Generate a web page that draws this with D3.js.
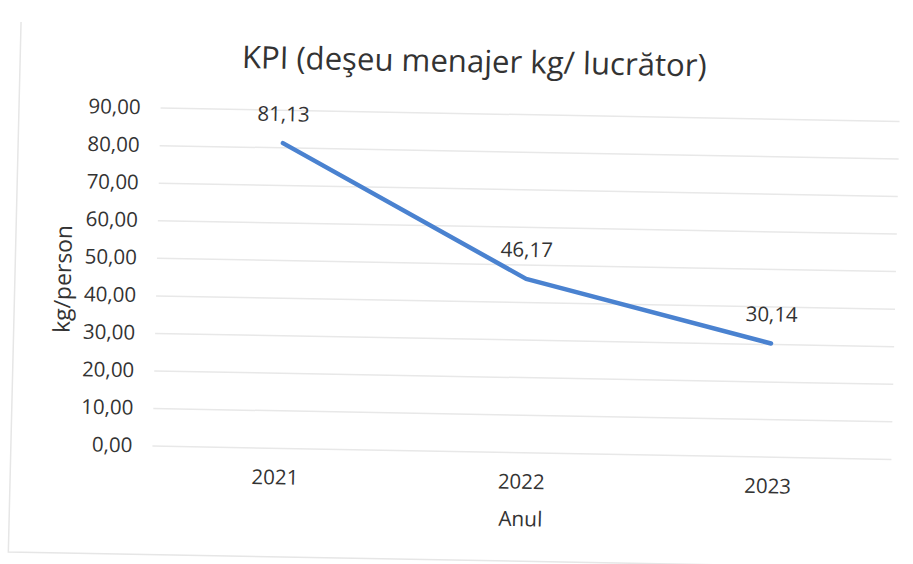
<!DOCTYPE html>
<html>
<head>
<meta charset="utf-8">
<script src="https://cdn.jsdelivr.net/npm/d3@7"></script>
<style>
  html, body { margin: 0; padding: 0; background: #ffffff; }
  svg { display: block; }
  text { font-family: "Open Sans", "Noto Sans", sans-serif; fill: #333333; }
</style>
</head>
<body>
<svg id="chart" width="913" height="564"></svg>
<script>
// ---- data ----
const years = ["2021", "2022", "2023"];
const kgPerPerson = [81.13, 46.17, 30.14];
const yTicks = [0, 10, 20, 30, 40, 50, 60, 70, 80, 90];
const chartTitle = "KPI (deşeu menajer kg/ lucrător)";
const yAxisTitle = "kg/person";
const xAxisTitle = "Anul";

// ---- layout ----
const W = 913, H = 564;
const plot = { left: 156.5, right: 895.5, top: 113, bottom: 451 };
// slight scan skew of the reference
const A = 0.024, B = 0.018, cx = W / 2, cy = H / 2;

const ro = d3.formatLocale({ decimal: ",", thousands: ".", grouping: [3], currency: ["", ""] });
const fmt = ro.format(".2f");

const svg = d3.select("#chart");
svg.append("rect").attr("width", W).attr("height", H).attr("fill", "#ffffff");

const g = svg.append("g")
  .attr("transform", `matrix(1,${B},${-A},1,${A * cy},${-B * cx})`);

// chart frame (only the left and bottom edges show in the scan)
g.append("path")
  .attr("d", d3.line()([[15, 30], [15, 560], [919, 560]]))
  .attr("fill", "none").attr("stroke", "#e6e6e6").attr("stroke-width", 1.5);

const x = d3.scaleBand().domain(years).range([plot.left, plot.right]).padding(0);
const y = d3.scaleLinear().domain([0, 90]).range([plot.bottom, plot.top]);

// y axis with gridlines
const yAxis = g.append("g")
  .attr("transform", `translate(${plot.left},0)`)
  .call(d3.axisLeft(y).tickValues(yTicks).tickFormat(fmt)
    .tickSize(-(plot.right - plot.left)).tickPadding(20));
yAxis.select(".domain").remove();
yAxis.selectAll(".tick line").attr("stroke", "#e8e8e8").attr("stroke-width", 1.5);
yAxis.selectAll(".tick text")
  .style("font-family", '"Open Sans", sans-serif')
  .attr("font-size", 20.5).attr("fill", "#333333");

// x axis
const xAxis = g.append("g")
  .attr("transform", `translate(0,${plot.bottom})`)
  .call(d3.axisBottom(x).tickSize(0).tickPadding(22));
xAxis.select(".domain").remove();
xAxis.selectAll(".tick text")
  .style("font-family", '"Open Sans", sans-serif')
  .attr("font-size", 20.5).attr("fill", "#333333");

// line
const pts = years.map((yr, i) => ({ yr, v: kgPerPerson[i] }));
const line = d3.line()
  .x(d => x(d.yr) + x.bandwidth() / 2)
  .y(d => y(d.v));
g.append("path")
  .datum(pts)
  .attr("d", line)
  .attr("fill", "none")
  .attr("stroke", "#4a82d0")
  .attr("stroke-width", 4.5)
  .attr("stroke-linejoin", "round")
  .attr("stroke-linecap", "round");

// data labels
g.selectAll(".dlabel")
  .data(pts)
  .join("text")
  .attr("class", "dlabel")
  .attr("x", d => x(d.yr) + x.bandwidth() / 2)
  .attr("y", d => y(d.v) - 22)
  .attr("text-anchor", "middle")
  .attr("font-size", 20.5)
  .text(d => fmt(d.v));

function fitText(sel, targetWidth, startSize) {
  sel.attr("font-size", startSize);
  const w = sel.node().getComputedTextLength();
  if (w > 0) sel.attr("font-size", startSize * targetWidth / w);
  return sel;
}

// title
const t = g.append("text")
  .attr("x", 469).attr("y", 72)
  .attr("text-anchor", "middle")
  .text(chartTitle);
fitText(t, 465, 30);

// y axis title
const yt = g.append("text")
  .attr("transform", `translate(71,${(plot.top + plot.bottom) / 2 + 4}) rotate(-90)`)
  .attr("text-anchor", "middle")
  .text(yAxisTitle);
fitText(yt, 108, 22);

// x axis title
const xt = g.append("text")
  .attr("x", (plot.left + plot.right) / 2).attr("y", 525)
  .attr("text-anchor", "middle")
  .text(xAxisTitle);
fitText(xt, 44, 22);
</script>
</body>
</html>
